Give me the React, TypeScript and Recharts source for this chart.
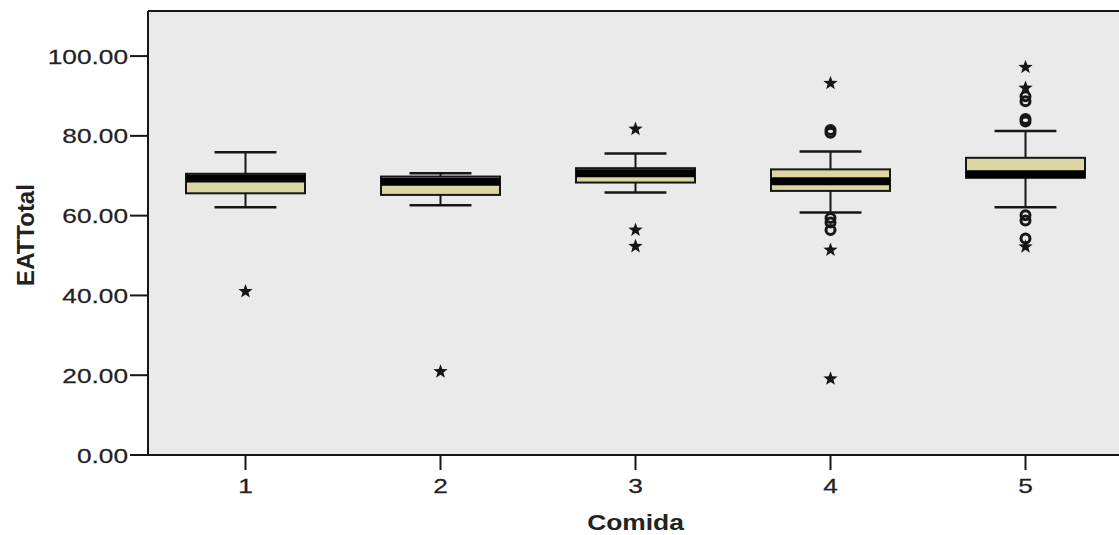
import { ComposedChart, Bar, Scatter, XAxis, YAxis, CartesianGrid, ReferenceLine } from 'recharts'

// EATTotal by Comida (boxplot, SPSS style)
const categories = ['1', '2', '3', '4', '5']
const whiskerLow = [62.1, 62.6, 65.8, 60.8, 62.1]
const q1 = [65.6, 65.2, 68.3, 66.2, 69.5]
const median = [69.3, 68.5, 70.6, 68.6, 70.4]
const q3 = [70.5, 69.8, 71.9, 71.6, 74.5]
const whiskerHigh = [75.9, 70.6, 75.6, 76.1, 81.2]

// extreme outliers (stars)
const starGroups = ['1', '2', '3', '3', '3', '4', '4', '4', '5', '5', '5']
const starValues = [41.0, 20.9, 81.7, 56.4, 52.3, 93.2, 51.4, 19.1, 97.2, 92.0, 52.2]

// outliers (circles)
const circleGroups = ['4', '4', '4', '4', '4', '5', '5', '5', '5', '5', '5', '5']
const circleValues = [81.5, 80.8, 59.4, 58.3, 56.4, 89.9, 88.7, 84.2, 83.6, 60.1, 58.8, 54.3]

const yTicks = [0, 20, 40, 60, 80, 100]

const rows = categories.map((name, i) => ({
    name,
    range: [whiskerLow[i], whiskerHigh[i]],
    lo: whiskerLow[i],
    q1: q1[i],
    med: median[i],
    q3: q3[i],
    hi: whiskerHigh[i],
}))
const stars = starGroups.map((name, i) => ({ name, v: starValues[i] }))
const circles = circleGroups.map((name, i) => ({ name, v: circleValues[i] }))

const INK = '#161616'
const TEXT = '#222'
const BOX_FILL = '#DCD6A2'
const FONT = '"Liberation Sans", Arial, sans-serif'

function BoxShape(props: any) {
    const { x, y, width, height, payload } = props
    const top = Math.min(y, y + height)
    const bottom = Math.max(y, y + height)
    const { lo, hi } = payload
    const toY = (v: number) => top + ((bottom - top) * (hi - v)) / (hi - lo)
    const cx = x + width / 2
    const cap = width * 0.26
    return (
        <g>
            <line x1={cx} x2={cx} y1={toY(hi)} y2={toY(lo)} stroke={INK} strokeWidth={2} />
            <line x1={cx - cap} x2={cx + cap} y1={toY(hi)} y2={toY(hi)} stroke={INK} strokeWidth={2.5} />
            <line x1={cx - cap} x2={cx + cap} y1={toY(lo)} y2={toY(lo)} stroke={INK} strokeWidth={2.5} />
            <rect x={x} y={toY(payload.q3)} width={width} height={toY(payload.q1) - toY(payload.q3)}
                fill={BOX_FILL} stroke={INK} strokeWidth={2} />
            <line x1={x} x2={x + width} y1={toY(payload.med)} y2={toY(payload.med)} stroke="#000" strokeWidth={8} />
        </g>
    )
}

function StarShape(props: any) {
    const { cx, cy } = props
    const pts: string[] = []
    for (let k = 0; k < 10; k++) {
        const r = k % 2 === 0 ? 7.5 : 3.1
        const a = -Math.PI / 2 + (k * Math.PI) / 5
        pts.push(`${cx + r * Math.cos(a)},${cy + r * Math.sin(a)}`)
    }
    return <polygon points={pts.join(' ')} fill={INK} />
}

function CircleShape(props: any) {
    const { cx, cy } = props
    return <circle cx={cx} cy={cy} r={4.5} fill="none" stroke={INK} strokeWidth={3} />
}

// the source image is stretched horizontally, so text is widened a bit
function YTick(props: any) {
    const { x, y, payload } = props
    return (
        <text transform={`translate(${x} ${y}) scale(1.25 1)`} textAnchor="end" dominantBaseline="central"
            fontFamily={FONT} fontSize={21} fill={TEXT} stroke={TEXT} strokeWidth={0.25}>{Number(payload.value).toFixed(2)}</text>
    )
}

function XTick(props: any) {
    const { x, y, payload } = props
    return (
        <text transform={`translate(${x} ${y + 18}) scale(1.25 1)`} textAnchor="middle"
            fontFamily={FONT} fontSize={21} fill={TEXT} stroke={TEXT} strokeWidth={0.25}>{payload.value}</text>
    )
}

export default function App() {
    return (
        <div style={{ position: 'absolute', left: 0, top: 0, width: 1119, height: 535, background: '#fff', overflow: 'hidden' }}>
            <ComposedChart width={1119} height={535} data={rows} margin={{ top: 11, right: -4, bottom: 0, left: 8 }}>
                <CartesianGrid horizontal={false} vertical={false} fill="#EAEAEA" />
                <XAxis
                    dataKey="name"
                    allowDuplicatedCategory={false}
                    height={80}
                    tickSize={15}
                    tickMargin={5}
                    axisLine={{ stroke: INK, strokeWidth: 2 }}
                    tickLine={{ stroke: INK, strokeWidth: 2 }}
                    tick={XTick}
                    label={{
                        content: ({ viewBox }: any) => {
                            const lx = viewBox.x + viewBox.width / 2
                            return (
                                <text transform={`translate(${lx} 530) scale(1.2 1)`} textAnchor="middle"
                                    fontFamily={FONT} fontWeight="bold" fontSize={22} fill={TEXT}>Comida</text>
                            )
                        },
                    }}
                />
                <YAxis
                    type="number"
                    domain={[0, 111.3]}
                    ticks={yTicks}
                    width={140}
                    tickSize={18}
                    tickMargin={2}
                    axisLine={{ stroke: INK, strokeWidth: 2 }}
                    tickLine={{ stroke: INK, strokeWidth: 2 }}
                    tick={YTick}
                    label={{
                        content: ({ viewBox }: any) => {
                            const lx = 25
                            const ly = viewBox.y + viewBox.height / 2 + 2
                            return (
                                <text x={lx} y={ly} transform={`rotate(-90 ${lx} ${ly})`} textAnchor="middle" dominantBaseline="central"
                                    fontFamily={FONT} fontWeight="bold" fontSize={24} fill={TEXT}>EATTotal</text>
                            )
                        },
                    }}
                />
                <ReferenceLine y={111.3} stroke={INK} strokeWidth={2} />
                <Bar dataKey="range" barSize={119} shape={BoxShape} isAnimationActive={false} />
                <Scatter data={circles} dataKey="v" shape={CircleShape} isAnimationActive={false} />
                <Scatter data={stars} dataKey="v" shape={StarShape} isAnimationActive={false} />
            </ComposedChart>
        </div>
    )
}
